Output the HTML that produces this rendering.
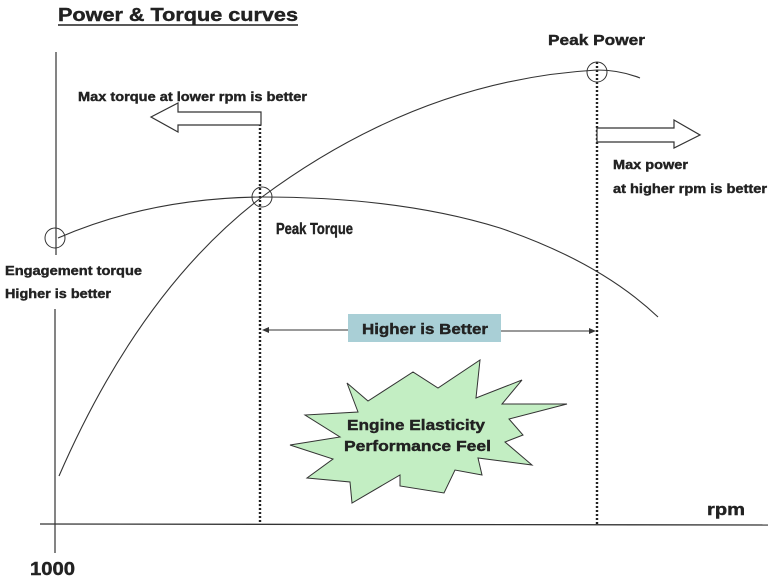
<!DOCTYPE html>
<html><head><meta charset="utf-8"><style>
html,body{margin:0;padding:0;background:#fff;}
body{width:768px;height:583px;overflow:hidden;position:relative;font-family:"Liberation Sans",Arial,sans-serif;}
svg{position:absolute;left:0;top:0;}
text{font-family:"Liberation Sans",Arial,sans-serif;font-weight:bold;fill:#222;stroke:#222;stroke-width:0.4;}
</style></head><body>
<svg width="768" height="583" viewBox="0 0 768 583">
<text x="58" y="21" font-size="18" textLength="240" lengthAdjust="spacingAndGlyphs">Power &amp; Torque curves</text>
<line x1="58" y1="25" x2="298" y2="25" stroke="#222" stroke-width="1.5"/>
<!-- axes -->
<line x1="56" y1="52" x2="56" y2="255" stroke="#333" stroke-width="1.2"/>
<line x1="55" y1="309" x2="55" y2="553" stroke="#333" stroke-width="1.2"/>
<line x1="40" y1="524" x2="768" y2="525" stroke="#333" stroke-width="1.3"/>
<!-- dotted -->
<line x1="260" y1="112" x2="260" y2="524" stroke="#222" stroke-width="2.4" stroke-dasharray="2,2"/>
<line x1="597" y1="62" x2="597" y2="524" stroke="#222" stroke-width="2.4" stroke-dasharray="2,2"/>
<!-- curves -->
<path d="M59,476 Q140,290 262,197 Q420,80 597,70 Q620,70 640,78" fill="none" stroke="#333" stroke-width="1.1"/>
<path d="M58,238 Q150,198 262,197 Q400,197 500,228 Q600,262 658,317" fill="none" stroke="#333" stroke-width="1.1"/>
<circle cx="55" cy="238" r="10" fill="none" stroke="#333"/>
<circle cx="262" cy="197" r="10" fill="none" stroke="#333"/>
<circle cx="597" cy="72" r="10" fill="none" stroke="#333"/>
<!-- hollow arrows -->
<polygon points="261,112 178,112 178,103 151,117 178,132 178,125 261,125" fill="#fff" stroke="#333" stroke-width="1.2"/>
<polygon points="597,128 674,128 674,120 700,135 674,148 674,142 597,142" fill="#fff" stroke="#333" stroke-width="1.2"/>
<!-- labels -->
<text x="78" y="101" font-size="13" textLength="229" lengthAdjust="spacingAndGlyphs">Max torque at lower rpm is better</text>
<text x="548" y="45" font-size="15" textLength="97" lengthAdjust="spacingAndGlyphs">Peak Power</text>
<text x="613" y="169" font-size="13" textLength="75" lengthAdjust="spacingAndGlyphs">Max power</text>
<text x="613" y="193" font-size="13" textLength="154" lengthAdjust="spacingAndGlyphs">at higher rpm is better</text>
<text x="276" y="234" font-size="16" textLength="77" lengthAdjust="spacingAndGlyphs">Peak Torque</text>
<text x="5" y="275" font-size="13" textLength="137" lengthAdjust="spacingAndGlyphs">Engagement torque</text>
<text x="5" y="298" font-size="13" textLength="106" lengthAdjust="spacingAndGlyphs">Higher is better</text>
<!-- higher is better span -->
<line x1="264" y1="330" x2="348" y2="330" stroke="#333"/>
<polygon points="262,330 269,327 269,333" fill="#333"/>
<line x1="501" y1="331" x2="590" y2="331" stroke="#333"/>
<polygon points="596,331 589,328 589,334" fill="#333"/>
<rect x="348" y="314" width="153" height="28" fill="#a9cfd6"/>
<text x="362" y="334" font-size="15" textLength="126" lengthAdjust="spacingAndGlyphs">Higher is Better</text>
<!-- starburst -->
<polygon points="347,383 368,401 413,372 438,388 480,360 476,398 522,380 502,404 567,404 509,419 523,435 505,442 532,465 478,458 482,475 455,470 444,493 400,486 400,475 352,503 350,482 307,478 333,459 290,445 340,437 305,415 358,412" fill="#c3eec3" stroke="#333" stroke-width="1"/>
<text x="347" y="430" font-size="15" textLength="138" lengthAdjust="spacingAndGlyphs">Engine Elasticity</text>
<text x="344" y="451" font-size="15" textLength="147" lengthAdjust="spacingAndGlyphs">Performance Feel</text>
<text x="707" y="515" font-size="17" font-weight="normal" stroke-width="0" textLength="38" lengthAdjust="spacingAndGlyphs">rpm</text>
<text x="30" y="575" font-size="18" textLength="45" lengthAdjust="spacingAndGlyphs">1000</text>
</svg>
</body></html>
